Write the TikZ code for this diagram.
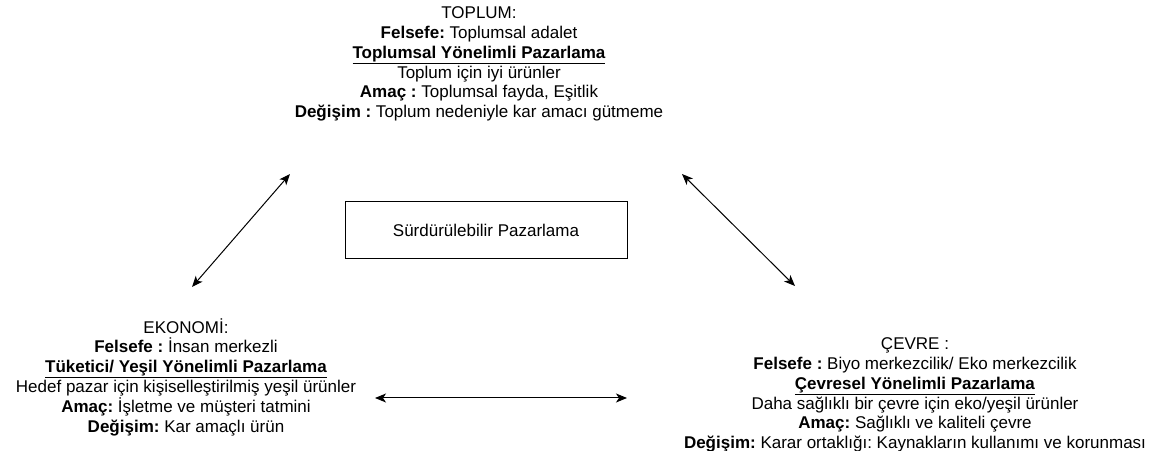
\documentclass[tikz,border=0pt]{standalone}
\usepackage{fontspec}
\setmainfont{Liberation Sans}
\frenchspacing
\usepackage{tikz}
\usetikzlibrary{arrows.meta}
\usetikzlibrary{positioning}
\tikzstyle{block} = [rectangle, align=center, inner sep=2pt, font=\fontsize{17}{19.8}\selectfont]
\tikzstyle{mainbox} = [rectangle, draw=black, thick, minimum width=282pt, minimum height=57pt, text centered, font=\fontsize{17}{19.8}\selectfont]
\tikzstyle{arrow} = [line width=1pt, {Stealth[length=11pt,width=9pt,inset=3pt]}-{Stealth[length=11pt,width=9pt,inset=3pt]}]

\begin{document}
\begin{tikzpicture}[x=1pt, y=1pt]
        \useasboundingbox (0,0) rectangle (1157,450);

        \node (surdurulebilir) [mainbox] at (486,220) {Sürdürülebilir Pazarlama};

        \node (toplum) [block] at (479,386) {TOPLUM:\\
            \textbf{Felsefe:} Toplumsal adalet\\
            \underline{\textbf{Toplumsal Yönelimli Pazarlama}}\\
            Toplum için iyi ürünler\\
            \textbf{Amaç :} Toplumsal fayda, Eşitlik\\
            \textbf{Değişim :} Toplum nedeniyle kar amacı gütmeme};
        \node (ekonomi) [block] at (186,73) {EKONOMİ:\\
            \textbf{Felsefe :} İnsan merkezli\\
            \underline{\textbf{Tüketici/ Yeşil Yönelimli Pazarlama}}\\
            Hedef pazar için kişiselleştirilmiş yeşil ürünler\\
            \textbf{Amaç:} İşletme ve müşteri tatmini\\
            \textbf{Değişim:} Kar amaçlı ürün};
        \node (cevre) [block] at (915,55) {ÇEVRE :\\
            \textbf{Felsefe :} Biyo merkezcilik/ Eko merkezcilik\\
            \underline{\textbf{Çevresel Yönelimli Pazarlama}}\\
            Daha sağlıklı bir çevre için eko/yeşil ürünler\\
            \textbf{Amaç:} Sağlıklı ve kaliteli çevre\\
            \textbf{Değişim:} Karar ortaklığı: Kaynakların kullanımı ve korunması};

        \coordinate (ekonomi_ust) at (192,163);
        \coordinate (toplum_sol) at (290,276);
        \coordinate (toplum_sag) at (682,276);
        \coordinate (cevre_ust) at (795,164);
        \coordinate (ekonomi_sag) at (375,52);
        \coordinate (cevre_sol) at (627,52);

        \draw [arrow] (ekonomi_ust) -- (toplum_sol);
        \draw [arrow] (toplum_sag) -- (cevre_ust);
        \draw [arrow] (ekonomi_sag) -- (cevre_sol);
    \end{tikzpicture}
\end{document}
